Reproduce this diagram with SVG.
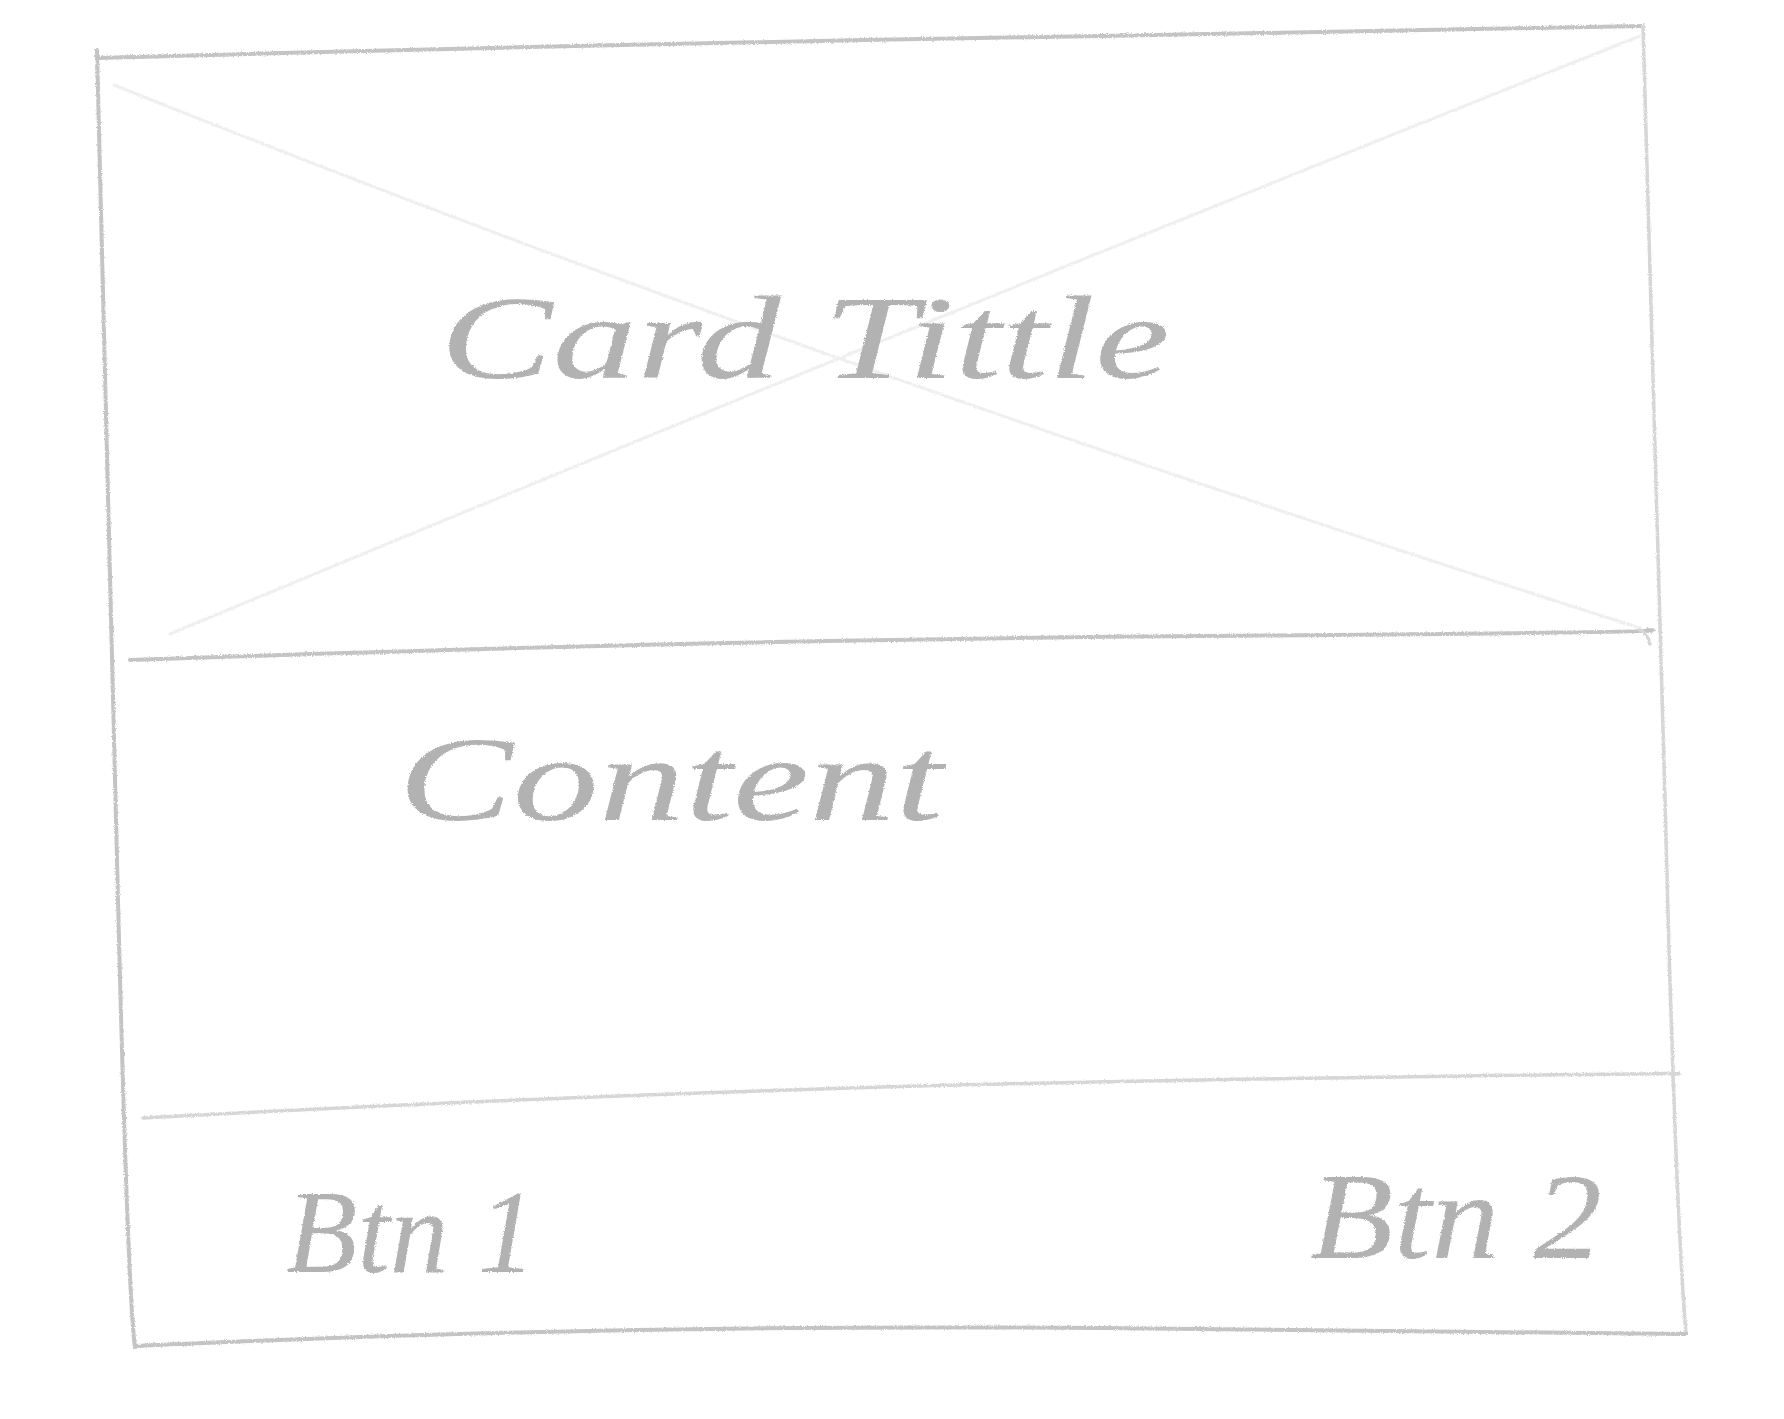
<svg xmlns="http://www.w3.org/2000/svg" width="1784" height="1419" viewBox="0 0 1784 1419">
  <defs>
    <!-- pencil grain for strokes and lettering -->
    <filter id="pencil" x="-5%" y="-5%" width="110%" height="110%">
      <feTurbulence type="fractalNoise" baseFrequency="0.9" numOctaves="2" seed="3" result="noise"/>
      <feDisplacementMap in="SourceGraphic" in2="noise" scale="3" xChannelSelector="R" yChannelSelector="G"/>
    </filter>
    <style>
      .edge { fill: none; stroke: #c4c4c4; stroke-width: 4; stroke-linecap: round; stroke-linejoin: round; }
      .edge-soft { fill: none; stroke: #d6d6d6; stroke-width: 3.5; stroke-linecap: round; }
      .cross { fill: none; stroke: #efefef; stroke-width: 3; stroke-linecap: round; }
      .hand { font-family: "Liberation Serif", "DejaVu Serif", serif; font-style: italic; fill: #b2b2b2; }
    </style>
  </defs>

  <rect width="1784" height="1419" fill="#ffffff"/>

  <!-- card outline -->
  <g id="card" filter="url(#pencil)">
    <path class="edge" d="M97 58 Q 600 44 1100 36 T 1643 26"/>
    <path class="edge" d="M97 50 Q 108 500 118 900 T 135 1347"/>
    <path class="edge-soft" d="M1643 26 Q 1655 400 1665 800 T 1686 1334"/>
    <path class="edge" d="M135 1346 Q 600 1324 1100 1328 T 1686 1334"/>
  </g>

  <!-- header: image placeholder with title -->
  <g id="header">
    <g class="cross-lines" filter="url(#pencil)">
      <path class="cross" d="M114 85 Q 800 360 1640 628"/>
      <path class="cross" d="M1640 36 Q 900 330 170 634"/>
    </g>
    <text class="hand" x="440" y="378" font-size="118" textLength="730" lengthAdjust="spacingAndGlyphs" filter="url(#pencil)">Card Tittle</text>
  </g>

  <!-- section dividers -->
  <g id="dividers" filter="url(#pencil)">
    <path class="edge" d="M130 660 Q 700 640 1200 636 T 1648 630"/>
    <path class="edge-soft" d="M1640 630 q 8 4 10 14"/>
    <path class="edge-soft" d="M143 1118 Q 700 1088 1200 1080 T 1678 1074"/>
  </g>

  <!-- content area -->
  <g id="content">
    <text class="hand" x="398" y="820" font-size="120" textLength="545" lengthAdjust="spacingAndGlyphs" filter="url(#pencil)">Content</text>
  </g>

  <!-- footer actions -->
  <g id="btn1">
    <text class="hand" x="286" y="1272" font-size="118" textLength="250" lengthAdjust="spacingAndGlyphs" filter="url(#pencil)">Btn 1</text>
  </g>
  <g id="btn2">
    <text class="hand" x="1310" y="1258" font-size="122" textLength="292" lengthAdjust="spacingAndGlyphs" filter="url(#pencil)">Btn 2</text>
  </g>

  <g id="connectors"/>
</svg>
